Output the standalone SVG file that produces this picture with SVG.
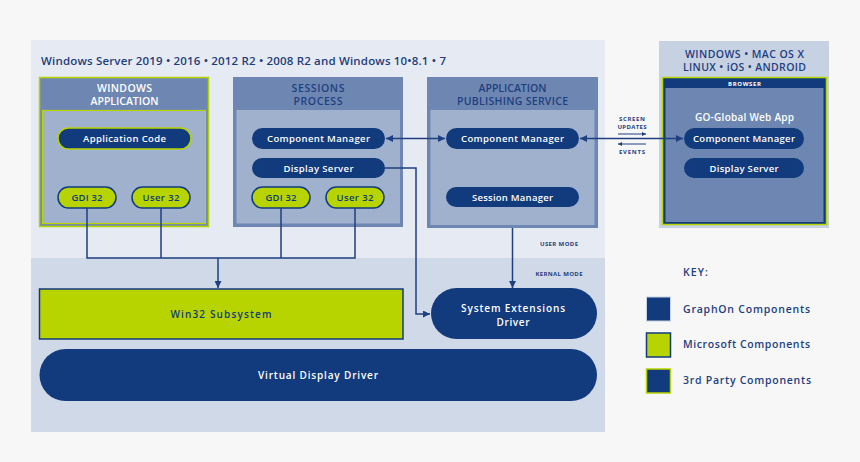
<svg xmlns="http://www.w3.org/2000/svg" width="860" height="462" viewBox="0 0 860 462">
<defs>
<style>
text{font-family:"Open Sans","Noto Sans","Liberation Sans",sans-serif;}
.t{font-size:11.5px;font-weight:600;fill:#1e3d7b;}
.hw{font-size:10.5px;font-weight:600;fill:#ffffff;text-anchor:middle;}
.hb{font-size:10.5px;font-weight:600;fill:#1e3f80;text-anchor:middle;}
.pl{font-size:9.5px;font-weight:600;fill:#ffffff;text-anchor:middle;}
.pd{font-size:9.5px;font-weight:600;fill:#123b7d;text-anchor:middle;}
.tiny{font-size:6px;font-weight:700;fill:#1e3f80;text-anchor:middle;}
.key{font-size:10.5px;font-weight:600;fill:#1e3f80;}
.hdr{fill:#6e87b2;}
.inner{fill:#a0b1ce;}
.pill{fill:#123b7d;}
.ms{fill:#b8d400;stroke:#123b7d;stroke-width:1.5;}
.cn{fill:none;stroke:#1e3f80;stroke-width:1.5;}
.cs{fill:none;stroke:#1e3f80;stroke-width:1;}
</style>
<marker id="ah" viewBox="0 0 10 10" refX="10" refY="5" markerWidth="8" markerHeight="7" markerUnits="userSpaceOnUse" orient="auto-start-reverse">
<path d="M0,0 L10,5 L0,10 z" fill="#1e3f80"/>
</marker>
<marker id="ahs" viewBox="0 0 10 10" refX="10" refY="5" markerWidth="6" markerHeight="4" markerUnits="userSpaceOnUse" orient="auto-start-reverse">
<path d="M0,0 L10,5 L0,10 z" fill="#1e3f80"/>
</marker>
</defs>
<rect x="0" y="0" width="860" height="462" fill="#f7f7f7"/>

<g id="server-panel">
<rect x="31" y="40" width="574" height="218" fill="#e6ebf3"/>
<rect x="31" y="258" width="574" height="174" fill="#d0d9e7"/>
<text class="t" x="41" y="65" textLength="405" lengthAdjust="spacing">Windows Server 2019 • 2016 • 2012 R2 • 2008 R2 and Windows 10•8.1 • 7</text>
<text class="tiny" x="559" y="246" textLength="38" lengthAdjust="spacing">USER MODE</text>
<text class="tiny" x="559" y="276" textLength="47" lengthAdjust="spacing">KERNAL MODE</text>
</g>

<g id="windows-application">
<rect x="39.5" y="77.5" width="169" height="149" class="hdr" stroke="#b8d400" stroke-width="1.5"/>
<rect x="42.5" y="110.5" width="163" height="113" class="inner" stroke="#b8d400" stroke-width="1.2"/>
<text class="hw" x="124.5" y="92" textLength="55" lengthAdjust="spacing">WINDOWS</text>
<text class="hw" x="124.5" y="105" textLength="68" lengthAdjust="spacing">APPLICATION</text>
<g id="application-code">
<rect x="58" y="128" width="133" height="21" rx="10.5" class="pill" stroke="#b8d400" stroke-width="1.5"/>
<text class="pl" x="124.5" y="142" textLength="83" lengthAdjust="spacing">Application Code</text>
</g>
<g id="gdi32-app">
<rect x="58" y="187" width="58" height="21" rx="10.5" class="ms"/>
<text class="pd" x="87" y="201" textLength="31" lengthAdjust="spacing">GDI 32</text>
</g>
<g id="user32-app">
<rect x="132" y="187" width="58" height="21" rx="10.5" class="ms"/>
<text class="pd" x="161" y="201" textLength="37" lengthAdjust="spacing">User 32</text>
</g>
</g>

<g id="sessions-process">
<rect x="233" y="77" width="170" height="150" class="hdr"/>
<rect x="236.5" y="110" width="163.5" height="113.5" class="inner"/>
<text class="hb" x="318" y="92" textLength="53" lengthAdjust="spacing">SESSIONS</text>
<text class="hb" x="318" y="105" textLength="49" lengthAdjust="spacing">PROCESS</text>
<g id="sp-component-manager">
<rect x="252" y="128" width="133" height="21" rx="10.5" class="pill"/>
<text class="pl" x="318.5" y="142" textLength="103" lengthAdjust="spacing">Component Manager</text>
</g>
<g id="sp-display-server">
<rect x="252" y="158" width="133" height="20" rx="10" class="pill"/>
<text class="pl" x="318.5" y="171.5" textLength="70" lengthAdjust="spacing">Display Server</text>
</g>
<g id="gdi32-sp">
<rect x="252" y="187" width="58" height="21" rx="10.5" class="ms"/>
<text class="pd" x="281" y="201" textLength="31" lengthAdjust="spacing">GDI 32</text>
</g>
<g id="user32-sp">
<rect x="326" y="187" width="58" height="21" rx="10.5" class="ms"/>
<text class="pd" x="355" y="201" textLength="37" lengthAdjust="spacing">User 32</text>
</g>
</g>

<g id="application-publishing-service">
<rect x="427" y="77" width="171" height="151" class="hdr"/>
<rect x="430.5" y="110" width="164" height="115" class="inner"/>
<text class="hb" x="512.5" y="92" textLength="68" lengthAdjust="spacing">APPLICATION</text>
<text class="hb" x="512.5" y="105" textLength="111" lengthAdjust="spacing">PUBLISHING SERVICE</text>
<g id="aps-component-manager">
<rect x="446" y="128" width="133" height="21" rx="10.5" class="pill"/>
<text class="pl" x="512.5" y="142" textLength="103" lengthAdjust="spacing">Component Manager</text>
</g>
<g id="session-manager">
<rect x="446" y="187" width="133" height="20" rx="10" class="pill"/>
<text class="pl" x="512.5" y="200.5" textLength="81" lengthAdjust="spacing">Session Manager</text>
</g>
</g>

<g id="client-platforms">
<rect x="659" y="41" width="170" height="187" fill="#c6d1e2"/>
<text class="hb" x="744.5" y="58" textLength="119" lengthAdjust="spacing">WINDOWS • MAC OS X</text>
<text class="hb" x="744.5" y="70.5" textLength="123" lengthAdjust="spacing">LINUX • iOS • ANDROID</text>
<g id="browser">
<rect x="662.5" y="77.5" width="164" height="147" fill="#123b7d" stroke="#b8d400" stroke-width="1.5"/>
<rect x="665.5" y="88" width="158" height="134" class="hdr"/>
<text class="tiny" x="744.5" y="85.5" fill="#ffffff" style="fill:#ffffff" textLength="33" lengthAdjust="spacing">BROWSER</text>
<text class="pl" x="744.5" y="121" style="font-size:10px" textLength="99" lengthAdjust="spacing">GO-Global Web App</text>
<g id="web-component-manager">
<rect x="684" y="128" width="120" height="21" rx="10.5" class="pill"/>
<text class="pl" x="744" y="142" textLength="102" lengthAdjust="spacing">Component Manager</text>
</g>
<g id="web-display-server">
<rect x="684" y="158" width="120" height="20" rx="10" class="pill"/>
<text class="pl" x="744" y="171.5" textLength="69" lengthAdjust="spacing">Display Server</text>
</g>
</g>
</g>

<g id="win32-subsystem">
<rect x="39.5" y="289" width="363.5" height="50" class="ms"/>
<text class="pd" x="221" y="318" style="font-size:10px" textLength="101" lengthAdjust="spacing">Win32 Subsystem</text>
</g>

<g id="system-extensions-driver">
<rect x="431" y="288" width="166" height="51" rx="25.5" class="pill"/>
<text class="pl" x="513" y="312" style="font-size:10px" textLength="104" lengthAdjust="spacing">System Extensions</text>
<text class="pl" x="513" y="326" style="font-size:10px" textLength="33" lengthAdjust="spacing">Driver</text>
</g>

<g id="virtual-display-driver">
<rect x="39.5" y="349" width="557.5" height="52" rx="26" class="pill"/>
<text class="pl" x="318" y="379" style="font-size:10px" textLength="120" lengthAdjust="spacing">Virtual Display Driver</text>
</g>

<g id="key">
<text class="key" x="683" y="276" textLength="25" lengthAdjust="spacing">KEY:</text>
<rect x="646.5" y="297" width="24" height="24" fill="#123b7d" stroke="#c6d1e2" stroke-width="1"/>
<text class="key" x="683" y="313" textLength="127" lengthAdjust="spacing">GraphOn Components</text>
<rect x="646.5" y="333" width="24" height="24" fill="#b8d400" stroke="#123b7d" stroke-width="1.5"/>
<text class="key" x="683" y="348" textLength="127" lengthAdjust="spacing">Microsoft Components</text>
<rect x="646.5" y="369" width="24" height="24" fill="#123b7d" stroke="#b8d400" stroke-width="1.5"/>
<text class="key" x="683" y="384" textLength="128" lengthAdjust="spacing">3rd Party Components</text>
</g>

<g id="connectors">
<path class="cn" d="M87,208 V258 M161,208 V258 M281,208 V258 M355,208 V258 M86.25,258 H355.75"/>
<path class="cn" d="M218,258 V288" marker-end="url(#ah)"/>
<path class="cn" d="M385,168 H416 V314 H430" marker-end="url(#ah)"/>
<path class="cn" d="M512.5,228 V288" marker-end="url(#ah)"/>
<path class="cn" d="M386,138.5 H445" marker-start="url(#ah)" marker-end="url(#ah)"/>
<path class="cn" d="M580,138.5 H683" marker-start="url(#ah)" marker-end="url(#ah)"/>
<path class="cs" d="M618,134 H646" marker-end="url(#ahs)"/>
<path class="cs" d="M646,144 H618" marker-end="url(#ahs)"/>
<text class="tiny" x="632" y="121" textLength="26" lengthAdjust="spacing">SCREEN</text>
<text class="tiny" x="632" y="129" textLength="29" lengthAdjust="spacing">UPDATES</text>
<text class="tiny" x="632" y="154" textLength="26" lengthAdjust="spacing">EVENTS</text>
</g>
</svg>
